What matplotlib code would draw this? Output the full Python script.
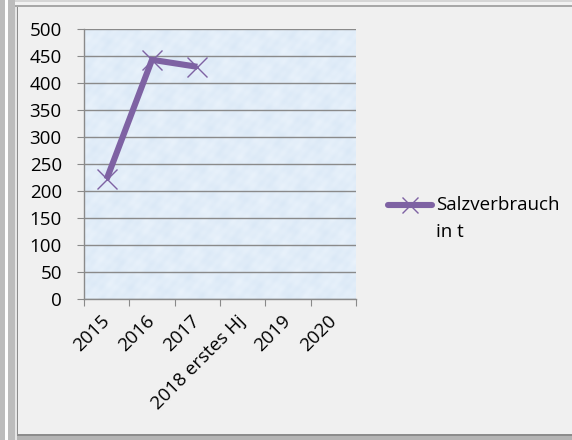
import matplotlib
matplotlib.use("Agg")
import matplotlib.pyplot as plt
import numpy as np
from matplotlib.patches import Rectangle
from matplotlib.lines import Line2D

# Salt consumption per year
categories = ["2015", "2016", "2017", "2018 erstes Hj", "2019", "2020"]
salt_tonnes = [222, 443, 430]
series_name = "Salzverbrauch\nin t"
y_ticks = [0, 50, 100, 150, 200, 250, 300, 350, 400, 450, 500]

W, H = 572, 440
FS = 13.5
PURPLE = "#7e62a3"
plt.rcParams["font.family"] = ["Open Sans", "DejaVu Sans"]

fig = plt.figure(figsize=(W / 100, H / 100), dpi=100)
fig.patch.set_facecolor("#f0f0f0")


def px_rect(x0, y0, x1, y1, color, z=0):
    fig.patches.append(Rectangle((x0 / W, 1 - y1 / H), (x1 - x0) / W, (y1 - y0) / H,
                                 transform=fig.transFigure, facecolor=color,
                                 edgecolor="none", zorder=z))


# window chrome around the chart area
px_rect(0, 0, W, 2, "#d6d6d6")
px_rect(0, 2, W, 5, "#f2f2f2")
px_rect(0, 5, W, 7, "#a8a8a8")
px_rect(0, 0, 5, H, "#bcbcbc")
px_rect(5, 0, 8, H, "#ffffff")
px_rect(8, 0, 15, H, "#bcbcbc")
px_rect(15, 7, 17, H, "#e6e6e6")
px_rect(17, 7, 18, 436, "#8c8c8c")
px_rect(17, 434, W, 436, "#8c8c8c")
px_rect(17, 436, W, H, "#b4b4b4")

left, right, top, bottom = 84, 356, 29, 299
ax = fig.add_axes([left / W, 1 - bottom / H, (right - left) / W, (bottom - top) / H])

# tissue-paper style background fill
gx, gy = np.meshgrid(np.linspace(0, 1, 272), np.linspace(0, 1, 270))
tex = (np.sin(gx * 47 + gy * 13) * np.sin(gy * 39 - gx * 7)
       + 0.6 * np.sin(gx * 91 - gy * 67) * np.cos(gy * 83 + gx * 29)
       + 0.4 * np.sin(gx * 173 + gy * 151))
tex = (tex - tex.min()) / (tex.max() - tex.min())
base = np.array([0.855, 0.91, 0.965])
light = np.array([0.93, 0.96, 0.99])
img = base + (light - base) * tex[..., None] * 0.8
ax.imshow(img, extent=[0, len(categories), 0, 500], aspect="auto", zorder=0,
          interpolation="bilinear")

ax.set_xlim(0, len(categories))
ax.set_ylim(0, 500)
ax.set_yticks(y_ticks)
ax.set_yticklabels([str(v) for v in y_ticks], fontsize=FS)
ax.yaxis.grid(True, color="#8a8a8a", linewidth=1.0)
ax.set_axisbelow(False)
for gl in ax.get_ygridlines():
    gl.set_zorder(1)

ax.set_xticks(np.arange(len(categories) + 1))
ax.set_xticklabels([])
ax.set_xticks(np.arange(len(categories)) + 0.5, minor=True)
ax.set_xticklabels(categories, minor=True, rotation=45, ha="right", va="center",
                   rotation_mode="anchor", fontsize=FS)
ax.tick_params(axis="x", which="minor", length=0, pad=14)
ax.tick_params(axis="x", which="major", length=5, color="#8a8a8a", direction="out")
ax.tick_params(axis="y", length=5, color="#8a8a8a", direction="out", pad=11)

for s in ["top", "right"]:
    ax.spines[s].set_visible(False)
for s in ["left", "bottom"]:
    ax.spines[s].set_color("#8a8a8a")
    ax.spines[s].set_linewidth(1.0)
    ax.spines[s].set_zorder(3)

xs = np.arange(len(salt_tonnes)) + 0.5
ax.plot(xs, salt_tonnes, color=PURPLE, linewidth=4.4, solid_capstyle="butt",
        solid_joinstyle="miter", zorder=4, clip_on=False)
ax.plot(xs, salt_tonnes, linestyle="none", marker="x", markersize=15,
        markeredgewidth=1.0, color=PURPLE, zorder=5, clip_on=False)

# legend
ly = 1 - 205 / H
fig.add_artist(Line2D([388 / W, 432 / W], [ly, ly], transform=fig.transFigure,
                      color=PURPLE, linewidth=4.4, solid_capstyle="round"))
fig.add_artist(Line2D([409.5 / W], [ly], transform=fig.transFigure, marker="x",
                      markersize=11, markeredgewidth=1.0, color=PURPLE))
fig.text(436 / W, 1 - 196 / H, series_name, fontsize=FS, va="top", ha="left",
         linespacing=1.65, color="#000000", multialignment="left")

fig.savefig("out.png", dpi=100, facecolor=fig.get_facecolor())
